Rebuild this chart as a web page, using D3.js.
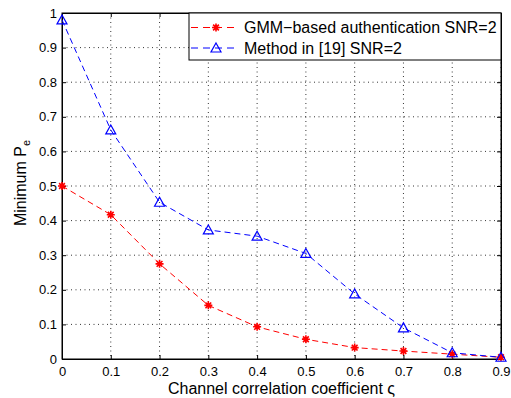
<!DOCTYPE html>
<html>
<head>
<meta charset="utf-8">
<script src="https://cdn.jsdelivr.net/npm/d3@7"></script>
<style>
  html, body { margin: 0; padding: 0; background: #fff; }
  svg { display: block; font-family: "Liberation Sans", Arial, sans-serif; }
</style>
</head>
<body>
<div id="chart"></div>
<script>
// Channel correlation coefficient values
const xValues = [0, 0.1, 0.2, 0.3, 0.4, 0.5, 0.6, 0.7, 0.8, 0.9];
// GMM-based authentication SNR=2
const gmmValues = [0.50, 0.417, 0.275, 0.155, 0.093, 0.057, 0.033, 0.023, 0.014, 0.005];
// Method in [19] SNR=2
const refValues = [0.98, 0.662, 0.453, 0.373, 0.355, 0.305, 0.188, 0.090, 0.018, 0.005];

const xTicks = [0, 0.1, 0.2, 0.3, 0.4, 0.5, 0.6, 0.7, 0.8, 0.9];
const yTicks = [0, 0.1, 0.2, 0.3, 0.4, 0.5, 0.6, 0.7, 0.8, 0.9, 1];

const W = 511, H = 398;
const margin = { top: 13, right: 10, bottom: 39, left: 62 };
const width = 501 - margin.left;
const height = 359 - margin.top;

const svg = d3.select("#chart").append("svg")
  .attr("width", W)
  .attr("height", H);

const g = svg.append("g")
  .attr("transform", `translate(${margin.left},${margin.top})`);

const x = d3.scaleLinear().domain([0, 0.9]).range([0, width]);
const y = d3.scaleLinear().domain([0, 1]).range([height, 0]);

// grid (dotted)
g.append("g").selectAll("line")
  .data(xTicks.slice(1))
  .join("line")
  .attr("x1", d => x(d)).attr("x2", d => x(d))
  .attr("y1", 0).attr("y2", height)
  .attr("stroke", "#000")
  .attr("stroke-width", 0.8)
  .attr("stroke-dasharray", "1,3.5");

g.append("g").selectAll("line")
  .data(yTicks.slice(1, -1))
  .join("line")
  .attr("x1", 0).attr("x2", width)
  .attr("y1", d => y(d)).attr("y2", d => y(d))
  .attr("stroke", "#000")
  .attr("stroke-width", 0.8)
  .attr("stroke-dasharray", "1,3.5");

// axes with inward ticks
const fmt = d => d === 0 ? "0" : d === 1 ? "1" : d3.format(".1f")(d);

g.append("g")
  .attr("transform", `translate(0,${height})`)
  .call(d3.axisBottom(x).tickValues(xTicks).tickFormat(fmt).tickSizeInner(-4).tickSizeOuter(0).tickPadding(8));

g.append("g")
  .call(d3.axisLeft(y).tickValues(yTicks).tickFormat(fmt).tickSizeInner(-4).tickSizeOuter(0).tickPadding(5));

g.append("g")
  .call(d3.axisTop(x).tickValues(xTicks).tickFormat("").tickSizeInner(-4).tickSizeOuter(0));
g.append("g")
  .attr("transform", `translate(${width},0)`)
  .call(d3.axisRight(y).tickValues(yTicks).tickFormat("").tickSizeInner(-4).tickSizeOuter(0));

svg.selectAll(".domain").attr("stroke", "#000").attr("stroke-width", 1);
svg.selectAll(".tick line").attr("stroke", "#000");
svg.selectAll(".tick text")
  .attr("font-size", "13px")
  .attr("font-family", "'Liberation Sans', Arial, sans-serif")
  .attr("fill", "#000");

// box
g.append("rect")
  .attr("width", width).attr("height", height)
  .attr("fill", "none").attr("stroke", "#000").attr("stroke-width", 1);

// series
const line = d3.line().x((d, i) => x(xValues[i])).y(d => y(d));

const series = [
  { name: "GMM\u2212based authentication SNR=2", values: gmmValues, color: "#ff0000", marker: "star" },
  { name: "Method in [19] SNR=2", values: refValues, color: "#0000ff", marker: "tri" }
];

function drawMarker(sel, type, color) {
  if (type === "star") {
    const r = 4;
    const p = `M${-r},0L${r},0M0,${-r}L0,${r}M${-r * 0.72},${-r * 0.72}L${r * 0.72},${r * 0.72}M${-r * 0.72},${r * 0.72}L${r * 0.72},${-r * 0.72}`;
    sel.append("path").attr("d", p).attr("stroke", color).attr("stroke-width", 1.6).attr("fill", "none");
  } else {
    const s = 5;
    sel.append("path")
      .attr("d", `M0,${-s}L${s},${s * 0.8}L${-s},${s * 0.8}Z`)
      .attr("stroke", color).attr("stroke-width", 1.2).attr("fill", "none");
  }
}

series.forEach(s => {
  g.append("path")
    .datum(s.values)
    .attr("d", line)
    .attr("fill", "none")
    .attr("stroke", s.color)
    .attr("stroke-width", 1)
    .attr("stroke-dasharray", "6,4");
});

series.forEach(s => {
  s.values.forEach((v, i) => {
    const m = g.append("g").attr("transform", `translate(${x(xValues[i])},${y(v)})`);
    drawMarker(m, s.marker, s.color);
  });
});

// legend
const legend = svg.append("g").attr("transform", "translate(189,13)");
legend.append("rect")
  .attr("width", 312).attr("height", 47)
  .attr("fill", "#fff").attr("stroke", "#000").attr("stroke-width", 1);

series.forEach((s, i) => {
  const row = legend.append("g").attr("transform", `translate(0,${14.5 + i * 20.5})`);
  row.append("line")
    .attr("x1", 2).attr("x2", 48).attr("y1", 0).attr("y2", 0)
    .attr("stroke", s.color).attr("stroke-width", 1)
    .attr("stroke-dasharray", "7,5");
  drawMarker(row.append("g").attr("transform", "translate(27,0)"), s.marker, s.color);
  row.append("text")
    .attr("x", 55).attr("y", 5.5)
    .attr("font-size", "16px")
    .attr("fill", "#000")
    .text(s.name);
});

// axis labels
svg.append("text")
  .attr("x", margin.left + width / 2)
  .attr("y", 394)
  .attr("text-anchor", "middle")
  .attr("font-size", "16px")
  .attr("fill", "#000")
  .text("Channel correlation coefficient \u03c2");

const yl = svg.append("text")
  .attr("transform", `translate(26,${margin.top + height / 2 - 3}) rotate(-90)`)
  .attr("text-anchor", "middle")
  .attr("font-size", "16px")
  .attr("fill", "#000");
yl.append("tspan").text("Minimum P");
yl.append("tspan").attr("font-size", "11px").attr("dy", 4).text("e");
</script>
</body>
</html>
